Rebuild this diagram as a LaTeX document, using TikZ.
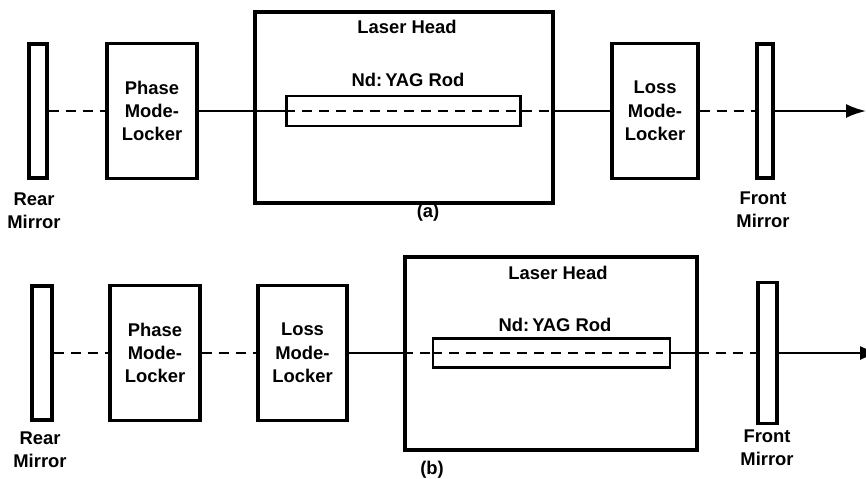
\documentclass[tikz,border=0pt]{standalone}
\usepackage{fontspec}
\setmainfont{Liberation Sans}
\usetikzlibrary{arrows.meta}

\begin{document}
\begin{tikzpicture}[x=0.5pt, y=-0.5pt, >={Latex[length=10pt,width=7pt]},
    every node/.style={font=\bfseries\fontsize{9.2}{11.7}\selectfont},
    part/.style={draw, line width=1.6pt, inner sep=0pt},
    mirror/.style={part, minimum width=9pt, minimum height=67pt},
    locker/.style={part, minimum width=45pt, minimum height=67.5pt, align=center},
    rod/.style={draw, line width=1.1pt, inner sep=0pt, minimum width=117pt, minimum height=15pt},
    tag/.style={align=center, inner sep=0pt},
    beam/.style={line width=1.1pt},
    gaps/.style={beam, dash pattern=on 5pt off 3.5pt}]

    \useasboundingbox (0,0) rectangle (866,478);

    % (a) parts
    \node[mirror] (rearA) at (38,111) {};
    \node[locker] (phaseA) at (152,111) {Phase\\Mode-\\Locker};
    \node[part, minimum width=149pt, minimum height=95.5pt] (headA) at (404,107.5) {};
    \node[rod] (rodA) at (403.5,111) {};
    \node[locker, minimum width=43pt] (lossA) at (655,111) {Loss\\Mode-\\Locker};
    \node[mirror, minimum width=8pt] (frontA) at (765,111) {};
    \coordinate (exitA) at (headA.east |- rodA.east);
    \coordinate (outA) at (866,111);

    % (a) labels
    \node[tag] (rearAtxt) at (34,211) {Rear\\Mirror};
    \node[tag] (frontAtxt) at (763,210) {Front\\Mirror};
    \node (headAtxt) at (407,27) {Laser Head};
    \node (rodAtxt) at (408,80) {Nd:\,YAG Rod};
    \node (capA) at (428,213) {(a)};

    % (a) beam
    \draw[gaps] (rearA) -- (phaseA);
    \draw[beam] (phaseA) -- (rodA);
    \draw[gaps] (rodA.west) -- (rodA.east);
    \draw[gaps] (rodA.east) -- (exitA);
    \draw[beam] (exitA) -- (lossA);
    \draw[gaps] (lossA) -- (frontA);
    \draw[beam, ->] (frontA) -- (outA);

    % (b) parts
    \node[mirror, minimum width=10pt] (rearB) at (42,353) {};
    \node[locker] (phaseB) at (155,353) {Phase\\Mode-\\Locker};
    \node[locker, minimum width=44.5pt] (lossB) at (302.5,353) {Loss\\Mode-\\Locker};
    \node[part, minimum width=146pt, minimum height=96.5pt] (headB) at (551,353.5) {};
    \node[rod, minimum width=118.5pt, minimum height=14.5pt] (rodB) at (551.5,353) {};
    \node[mirror, minimum width=9.5pt, minimum height=70.5pt] (frontB) at (767.5,353) {};
    \coordinate (entryB) at (headB.west |- rodB.west);
    \coordinate (exitB) at (headB.east |- rodB.east);
    \coordinate (outB) at (880,353);

    % (b) labels
    \node[tag] (rearBtxt) at (40,450) {Rear\\Mirror};
    \node[tag] (frontBtxt) at (767,448) {Front\\Mirror};
    \node (headBtxt) at (558,273) {Laser Head};
    \node (rodBtxt) at (555,325) {Nd:\,YAG Rod};
    \node (capB) at (432,470) {(b)};

    % (b) beam
    \draw[gaps] (rearB) -- (phaseB);
    \draw[gaps] (phaseB) -- (lossB);
    \draw[beam] (lossB) -- (entryB);
    \draw[gaps] (entryB) -- (rodB.west);
    \draw[gaps] (rodB.west) -- (rodB.east);
    \draw[beam] (rodB.east) -- (exitB);
    \draw[gaps] (exitB) -- (frontB);
    \draw[beam, ->] (frontB) -- (outB);
\end{tikzpicture}
\end{document}
